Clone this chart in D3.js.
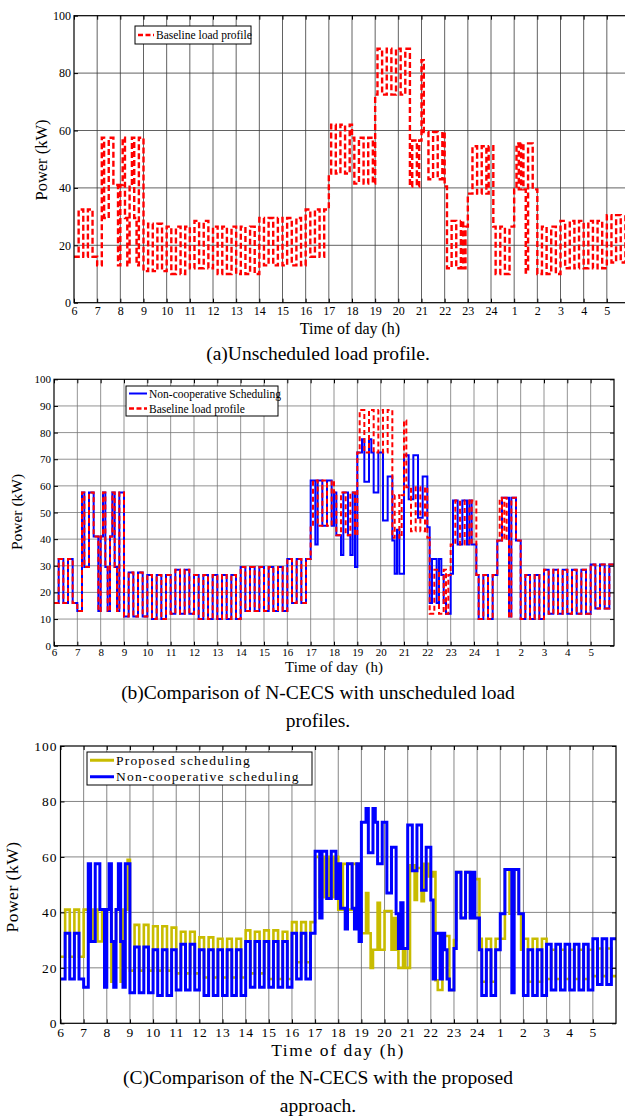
<!DOCTYPE html>
<html>
<head>
<meta charset="utf-8">
<script src="https://cdn.jsdelivr.net/npm/d3@7"></script>
<style>
  body { margin: 0; background: #fff; }
  svg { display: block; }
  svg text { font-family: "Liberation Serif", "Times New Roman", serif; }
</style>
</head>
<body>
<svg id="chart" width="625" height="1119"></svg>
<script>
const FONT = '"Liberation Serif", "Times New Roman", serif';

// x axis: hours from 6 h to 6 h next day
const hourTicks = [6, 7, 8, 9, 10, 11, 12, 13, 14, 15, 16, 17, 18, 19, 20, 21, 22, 23, 24, 25, 26, 27, 28, 29];
const hourLabels = ['6', '7', '8', '9', '10', '11', '12', '13', '14', '15', '16', '17', '18', '19', '20', '21', '22', '23', '24', '1', '2', '3', '4', '5'];
const slotHours = 0.1; // each row below = one hour, 10 slots of 6 min

// kW, one row per hour (6 .. 29)
const baselineLoad = [
  [16, 16, 32.5, 32.5, 16, 16, 32.5, 32.5, 16, 16],
  [13, 13, 57.5, 29.5, 29.5, 57.5, 57.5, 41, 41, 13],
  [41, 57.5, 29.5, 13, 41, 57.5, 29.5, 13, 57.5, 57.5],
  [11, 11, 27.5, 27.5, 11, 11, 27.5, 27.5, 11, 11],
  [26.5, 26.5, 10, 10, 26.5, 26.5, 10, 10, 26.5, 26.5],
  [12, 12, 28.5, 28.5, 12, 12, 28.5, 28.5, 12, 12],
  [26.5, 26.5, 10, 10, 26.5, 26.5, 10, 10, 26.5, 26.5],
  [10, 10, 26.5, 26.5, 10, 10, 26.5, 26.5, 10, 10],
  [29.5, 29.5, 13, 13, 29.5, 29.5, 13, 13, 29.5, 29.5],
  [13, 13, 29.5, 29.5, 13, 13, 29.5, 29.5, 13, 13],
  [32.5, 32.5, 16, 16, 32.5, 32.5, 16, 16, 32.5, 32.5],
  [45, 62, 62, 45, 45, 62, 62, 45, 45, 62],
  [57.5, 41.5, 41.5, 57.5, 57.5, 41.5, 41.5, 57.5, 57.5, 41.5],
  [72.5, 88.5, 88.5, 72.5, 72.5, 88.5, 88.5, 72.5, 72.5, 88.5],
  [88.5, 72.5, 72.5, 88.5, 88.5, 40.5, 56.5, 56.5, 40.5, 56.5],
  [84.5, 59.5, 59.5, 43, 43, 59.5, 59.5, 43, 43, 59.5],
  [40.5, 12, 12, 28.5, 28.5, 12, 12, 28.5, 12, 26.5],
  [38, 38, 54.5, 54.5, 38, 38, 54.5, 54.5, 38, 54.5],
  [54.5, 26.5, 10, 10, 26.5, 26.5, 10, 10, 26.5, 26.5],
  [39.5, 55.5, 39.5, 55.5, 39.5, 10.5, 55.5, 55.5, 39.5, 39.5],
  [10, 10, 26.5, 26.5, 10, 10, 26.5, 26.5, 10, 10],
  [28.5, 28.5, 12, 12, 28.5, 28.5, 12, 12, 28.5, 28.5],
  [12, 12, 28.5, 28.5, 12, 12, 28.5, 28.5, 12, 12],
  [30.5, 30.5, 14, 14, 30.5, 30.5, 14, 14, 30.5, 30.5]
];

const nonCoopLoad = [
  [16, 16, 32.5, 32.5, 16, 16, 32.5, 32.5, 16, 16],
  [13, 13, 57.5, 29.5, 29.5, 57.5, 57.5, 41, 41, 13],
  [41, 57.5, 29.5, 13, 41, 57.5, 29.5, 13, 57.5, 57.5],
  [11, 11, 27.5, 27.5, 11, 11, 27.5, 27.5, 11, 11],
  [26.5, 26.5, 10, 10, 26.5, 26.5, 10, 10, 26.5, 26.5],
  [12, 12, 28.5, 28.5, 12, 12, 28.5, 28.5, 12, 12],
  [26.5, 26.5, 10, 10, 26.5, 26.5, 10, 10, 26.5, 26.5],
  [10, 10, 26.5, 26.5, 10, 10, 26.5, 26.5, 10, 10],
  [29.5, 29.5, 13, 13, 29.5, 29.5, 13, 13, 29.5, 29.5],
  [13, 13, 29.5, 29.5, 13, 13, 29.5, 29.5, 13, 13],
  [32.5, 32.5, 16, 16, 32.5, 32.5, 16, 16, 32.5, 32.5],
  [62, 62, 38, 62, 62, 45, 45, 62, 62, 45],
  [57.5, 41.5, 41.5, 34, 57.5, 57.5, 41.5, 34, 57.5, 29.5],
  [72.5, 72.5, 77.5, 61.5, 61.5, 77.5, 72.5, 57.5, 57.5, 72.5],
  [72.5, 47, 47, 63.5, 63.5, 39.5, 27, 43.5, 27, 27],
  [71.5, 71.5, 55, 55, 71.5, 71.5, 48, 48, 63.5, 63.5],
  [44.5, 16, 32.5, 32.5, 16, 32.5, 26.5, 16, 12, 12],
  [27, 54.5, 54.5, 38, 38, 54.5, 54.5, 38, 54.5, 38],
  [38, 26.5, 10, 10, 26.5, 26.5, 10, 10, 26.5, 26.5],
  [39.5, 39.5, 55.5, 55.5, 55.5, 11, 55.5, 55.5, 39.5, 39.5],
  [10, 10, 26.5, 26.5, 10, 10, 26.5, 26.5, 10, 10],
  [28.5, 28.5, 12, 12, 28.5, 28.5, 12, 12, 28.5, 28.5],
  [12, 12, 28.5, 28.5, 12, 12, 28.5, 28.5, 12, 12],
  [30.5, 30.5, 14, 14, 30.5, 30.5, 14, 14, 30.5, 30.5]
];

const proposedLoad = [
  [24, 24, 41, 41, 24, 24, 41, 41, 24, 24],
  [41, 41, 29.5, 29.5, 41, 41, 29.5, 29.5, 41, 15],
  [41, 41, 15, 29.5, 41, 41, 15, 41, 41, 59],
  [19, 19, 35.5, 35.5, 19, 19, 35.5, 35.5, 19, 19],
  [35, 35, 19, 19, 35, 35, 19, 19, 34.5, 34.5],
  [18, 18, 33, 33, 18, 18, 33, 33, 18, 18],
  [31, 31, 16.5, 16.5, 31, 31, 16.5, 16.5, 30.5, 30.5],
  [16.5, 16.5, 30.5, 30.5, 16.5, 16.5, 30.5, 30.5, 16.5, 16.5],
  [33.5, 33.5, 18, 18, 33, 33, 18, 18, 33.5, 33.5],
  [16, 16, 33.5, 33.5, 16, 16, 33, 33, 16, 16],
  [36.5, 36.5, 22, 22, 36.5, 36.5, 22, 22, 36.5, 36.5],
  [60, 60, 45.5, 45.5, 60, 60, 45.5, 45.5, 60, 60],
  [41, 41, 57.5, 57.5, 41, 41, 57.5, 57.5, 41, 41],
  [32.5, 32.5, 47, 32.5, 20, 26.5, 26.5, 43.5, 26.5, 26.5],
  [40.5, 40.5, 40.5, 26.5, 38, 26.5, 20, 20, 26.5, 20],
  [20, 57, 57, 44.5, 56, 56, 44, 57.5, 57.5, 53],
  [53, 54.5, 15.5, 12, 12, 31.5, 31.5, 31.5, 12, 12],
  [30, 54.5, 54.5, 38, 38, 54.5, 54.5, 38, 38, 52],
  [52, 30.5, 15, 15, 30.5, 30.5, 15, 15, 30.5, 30.5],
  [30.5, 30.5, 55.5, 55.5, 39.5, 39.5, 55.5, 55.5, 39.5, 26.5],
  [30.5, 30.5, 15, 15, 30.5, 30.5, 15, 15, 30.5, 30.5],
  [16, 16, 26.5, 26.5, 16, 16, 26.5, 26.5, 16, 16],
  [26.5, 26.5, 16, 16, 26.5, 26.5, 16, 16, 26.5, 26.5],
  [17, 17, 27, 27, 17, 17, 27, 27, 17, 17]
];

const ticks20 = [0, 20, 40, 60, 80, 100];
const ticks10 = [0, 10, 20, 30, 40, 50, 60, 70, 80, 90, 100];

const RED = '#ff0000', BLUE = '#0000ff', YELLOW = '#c8bc00';

const svg = d3.select('#chart');

// hourly rows -> step points
const toSteps = rows => {
  const v = rows.flat();
  const pts = v.map((d, i) => [6 + i * slotHours, d]);
  pts.push([30, v[v.length - 1]]);
  return pts;
};

const panels = [
  {
    id: 'a', left: 74, right: 630, top: 15.7, bottom: 302.7,
    yTicks: ticks20, grid: '#3a3a3a', tickFont: 12, spacing: 0, xPad: 4,
    series: [{ rows: baselineLoad, color: RED, width: 2.4, dash: '6,3' }],
    ylab: { text: 'Power (kW)', x: 47, y: 160, size: 16.5 },
    xlab: { text: 'Time of day (h)', x: 350, y: 334, size: 16, spacing: 0 },
    legend: { x: 135, y: 26, w: 116, h: 18, font: 11.5, spacing: 0, swatch: 16,
      items: [{ label: 'Baseline load profile', color: RED, width: 2.4, dash: '5,2.5' }] }
  },
  {
    id: 'b', left: 54, right: 614, top: 379.3, bottom: 645.7,
    yTicks: ticks10, grid: '#777', tickFont: 11, spacing: 0, xPad: 2,
    series: [
      { rows: nonCoopLoad, color: BLUE, width: 2, dash: null },
      { rows: baselineLoad, color: RED, width: 2, dash: '5,3' }
    ],
    ylab: { text: 'Power (kW)', x: 22, y: 512, size: 15.5, spacing: 0 },
    xlab: { text: 'Time of day  (h)', x: 334, y: 672, size: 15, spacing: 0 },
    legend: { x: 126, y: 386, w: 152, h: 30, font: 11.5, spacing: 0, swatch: 18,
      items: [
        { label: 'Non-cooperative Scheduling', color: BLUE, width: 2, dash: null },
        { label: 'Baseline load profile', color: RED, width: 2.4, dash: '5,2.5' }
      ] }
  },
  {
    id: 'c', left: 60.5, right: 616, top: 746, bottom: 1023.3,
    yTicks: ticks20, grid: '#666', tickFont: 13.5, spacing: 1, xPad: 4,
    series: [
      { rows: proposedLoad, color: YELLOW, width: 2.6, dash: null },
      { rows: nonCoopLoad, color: BLUE, width: 3, dash: null }
    ],
    ylab: { text: 'Power (kW)', x: 18, y: 887, size: 17.5, spacing: 0.5 },
    xlab: { text: 'Time of day (h)', x: 338, y: 1056, size: 17.5, spacing: 1.6 },
    legend: { x: 87, y: 752, w: 225, h: 33, font: 13.5, spacing: 1.2, swatch: 24,
      items: [
        { label: 'Proposed scheduling', color: YELLOW, width: 3, dash: null },
        { label: 'Non-cooperative scheduling', color: BLUE, width: 3, dash: null }
      ] }
  }
];

const drawPanel = p => {
  const x = d3.scaleLinear().domain([6, 30]).range([p.left, p.right]);
  const y = d3.scaleLinear().domain([0, 100]).range([p.bottom, p.top]);
  const g = svg.append('g').attr('class', 'panel-' + p.id).attr('font-family', FONT);

  // grid
  g.append('g').selectAll('line').data(hourTicks.slice(1)).join('line')
    .attr('x1', d => x(d)).attr('x2', d => x(d))
    .attr('y1', p.top).attr('y2', p.bottom)
    .attr('stroke', p.grid).attr('stroke-width', 0.8);
  g.append('g').selectAll('line').data(p.yTicks.slice(1, -1)).join('line')
    .attr('x1', p.left).attr('x2', p.right)
    .attr('y1', d => y(d)).attr('y2', d => y(d))
    .attr('stroke', p.grid).attr('stroke-width', 0.8);

  // data
  svg.append('clipPath').attr('id', 'clip-' + p.id)
    .append('rect')
      .attr('x', p.left).attr('y', p.top - 2)
      .attr('width', p.right - p.left).attr('height', p.bottom - p.top + 2);

  const line = d3.line()
    .x(d => x(d[0]))
    .y(d => y(d[1]))
    .curve(d3.curveStepAfter);

  const lines = g.append('g').attr('clip-path', `url(#clip-${p.id})`);
  p.series.forEach(s => {
    lines.append('path')
      .datum(toSteps(s.rows))
      .attr('d', line)
      .attr('fill', 'none')
      .attr('stroke', s.color)
      .attr('stroke-width', s.width)
      .attr('stroke-dasharray', s.dash)
      .attr('stroke-linejoin', 'miter');
  });

  // frame
  g.append('rect')
    .attr('x', p.left).attr('y', p.top)
    .attr('width', p.right - p.left).attr('height', p.bottom - p.top)
    .attr('fill', 'none').attr('stroke', '#000').attr('stroke-width', 1.2);

  // axes with inward ticks
  const styleAxis = a => {
    a.select('.domain').remove();
    a.attr('font-family', FONT);
    a.selectAll('line').attr('stroke', '#000');
    a.selectAll('text')
      .attr('font-family', FONT)
      .attr('font-size', p.tickFont)
      .attr('letter-spacing', p.spacing)
      .attr('fill', '#000');
  };
  g.append('g').attr('transform', `translate(0,${p.bottom})`)
    .call(d3.axisBottom(x).tickValues(hourTicks)
      .tickFormat((d, i) => hourLabels[i]).tickSizeInner(-4).tickSizeOuter(0).tickPadding(p.xPad))
    .call(styleAxis);
  g.append('g').attr('transform', `translate(0,${p.top})`)
    .call(d3.axisTop(x).tickValues(hourTicks).tickFormat('').tickSizeInner(-4).tickSizeOuter(0))
    .call(styleAxis);
  g.append('g').attr('transform', `translate(${p.left},0)`)
    .call(d3.axisLeft(y).tickValues(p.yTicks).tickSizeInner(-4).tickSizeOuter(0).tickPadding(3))
    .call(styleAxis);
  g.append('g').attr('transform', `translate(${p.right},0)`)
    .call(d3.axisRight(y).tickValues(p.yTicks).tickFormat('').tickSizeInner(-4).tickSizeOuter(0))
    .call(styleAxis);

  // axis titles
  g.append('text')
    .attr('transform', `translate(${p.ylab.x},${p.ylab.y}) rotate(-90)`)
    .attr('text-anchor', 'middle')
    .attr('font-family', FONT)
    .attr('font-size', p.ylab.size)
    .attr('letter-spacing', p.ylab.spacing || 0)
    .text(p.ylab.text);
  g.append('text')
    .attr('x', p.xlab.x).attr('y', p.xlab.y)
    .attr('text-anchor', 'middle')
    .attr('font-family', FONT)
    .attr('font-size', p.xlab.size)
    .attr('letter-spacing', p.xlab.spacing)
    .style('white-space', 'pre')
    .text(p.xlab.text);

  // legend
  const L = p.legend;
  const lg = g.append('g');
  lg.append('rect')
    .attr('x', L.x).attr('y', L.y).attr('width', L.w).attr('height', L.h)
    .attr('fill', '#fff').attr('stroke', '#000').attr('stroke-width', 1);
  const rowH = L.h / L.items.length;
  L.items.forEach((it, i) => {
    const cy = L.y + rowH * (i + 0.5);
    lg.append('line')
      .attr('x1', L.x + 3).attr('x2', L.x + 3 + L.swatch)
      .attr('y1', cy).attr('y2', cy)
      .attr('stroke', it.color).attr('stroke-width', it.width)
      .attr('stroke-dasharray', it.dash);
    lg.append('text')
      .attr('x', L.x + L.swatch + 5).attr('y', cy)
      .attr('dy', '0.35em')
      .attr('font-family', FONT)
      .attr('font-size', L.font)
      .attr('letter-spacing', L.spacing)
      .text(it.label);
  });
};

panels.forEach(drawPanel);

// captions
const captions = [
  { text: '(a)Unscheduled load profile.', y: 360 },
  { text: '(b)Comparison of N-CECS with unscheduled load', y: 699 },
  { text: 'profiles.', y: 727 },
  { text: '(C)Comparison of the N-CECS with the proposed', y: 1084 },
  { text: 'approach.', y: 1112 }
];
svg.append('g').selectAll('text').data(captions).join('text')
  .attr('x', 318).attr('y', d => d.y)
  .attr('text-anchor', 'middle')
  .attr('font-family', FONT)
  .attr('font-size', 19.5)
  .text(d => d.text);
</script>
</body>
</html>
